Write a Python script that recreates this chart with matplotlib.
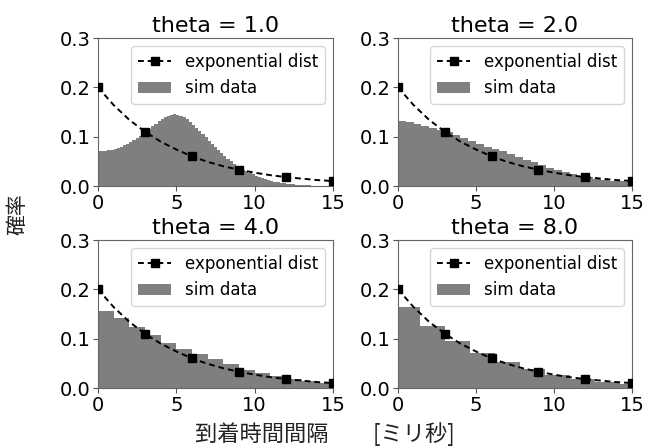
import numpy as np
import matplotlib
matplotlib.use("Agg")
import matplotlib.pyplot as plt

plt.rcParams['font.family'] = ['DejaVu Sans', 'Noto Sans CJK JP']

# ---- data ----
thetas = [1.0, 2.0, 4.0, 8.0]

exp_x = [0, 1, 2, 3, 4, 5, 6, 7, 8, 9, 10, 11, 12, 13, 14, 15]
exp_y = [0.200, 0.164, 0.134, 0.110, 0.090, 0.074, 0.060, 0.049, 0.040,
         0.033, 0.027, 0.022, 0.018, 0.015, 0.012, 0.010]

# theta = 1.0 : bin width 0.2, left edges 0.0 ... 14.8
hist1_edges_start = 0.0
hist1_width = 0.2
hist1 = [0.070, 0.070, 0.071, 0.072, 0.073, 0.075, 0.077, 0.080, 0.083, 0.086,
         0.089, 0.093, 0.097, 0.101, 0.106, 0.111, 0.116, 0.121, 0.126, 0.131,
         0.136, 0.139, 0.142, 0.144, 0.145, 0.144, 0.142, 0.139, 0.135, 0.130,
         0.124, 0.118, 0.112, 0.105, 0.099, 0.092, 0.086, 0.079, 0.073, 0.066,
         0.060, 0.055, 0.050, 0.045, 0.041, 0.037, 0.033, 0.030, 0.027, 0.024,
         0.021, 0.018, 0.016, 0.014, 0.012, 0.010, 0.009, 0.008, 0.007, 0.006,
         0.005, 0.004, 0.004, 0.003, 0.003, 0.002, 0.002, 0.002, 0.001, 0.001,
         0.001, 0.001, 0.001, 0.000, 0.000]

# theta = 2.0 : bin width 0.5
hist2_edges_start = 0.0
hist2_width = 0.5
hist2 = [0.131, 0.129, 0.126, 0.122, 0.118, 0.114, 0.110, 0.104, 0.098, 0.092,
         0.086, 0.080, 0.075, 0.070, 0.065, 0.059, 0.053, 0.048, 0.042, 0.036,
         0.032, 0.028, 0.024, 0.020, 0.018, 0.015, 0.013, 0.011, 0.010, 0.009]

# theta = 4.0 : bin width 1.0
hist4_edges_start = 0.0
hist4_width = 1.0
hist4 = [0.157, 0.141, 0.124, 0.107, 0.091, 0.080, 0.068, 0.058, 0.049, 0.036,
         0.031, 0.024, 0.019, 0.014, 0.010]

# theta = 8.0 : bin width 1.6
hist8_edges_start = -0.2
hist8_width = 1.6
hist8 = [0.164, 0.125, 0.095, 0.071, 0.053, 0.038, 0.027, 0.019, 0.013, 0.009]

hists = [(hist1_edges_start, hist1_width, hist1),
         (hist2_edges_start, hist2_width, hist2),
         (hist4_edges_start, hist4_width, hist4),
         (hist8_edges_start, hist8_width, hist8)]

xticks = [0, 5, 10, 15]
yticks = [0.0, 0.1, 0.2, 0.3]

# ---- figure ----
fig = plt.figure(figsize=(6.45, 4.48), dpi=100)
W, H = 645, 448
boxes = [(98, 38, 333, 186), (398, 38, 632, 186),
         (98, 240, 333, 388), (398, 240, 632, 388)]

for (l, t, r, b), th, (start, w, vals) in zip(boxes, thetas, hists):
    ax = fig.add_axes([l / W, 1 - b / H, (r - l) / W, (b - t) / H])
    lefts = start + w * np.arange(len(vals))
    ax.plot(exp_x, exp_y, color='black', linestyle=(0, (3, 2)), marker='s',
            markersize=5.5, markevery=3, linewidth=1.4,
            label='exponential dist', zorder=3)
    ax.bar(lefts, vals, width=w, align='edge', color='#7f7f7f',
           linewidth=0, label='sim data', zorder=2)
    ax.set_xlim(0, 15)
    ax.set_ylim(0, 0.3)
    ax.set_xticks(xticks)
    ax.set_yticks(yticks)
    ax.set_yticklabels([f"{v:.1f}" for v in yticks])
    ax.tick_params(labelsize=14, length=3.5, color='#555555', pad=2)
    for s in ax.spines.values():
        s.set_color('#666666')
    ax.set_title(f"theta = {th}", fontsize=16, pad=4)
    ax.legend(loc='upper right', fontsize=12, handlelength=2.0,
              borderaxespad=0.5)

fig.text(325 / W, 1 - 434 / H, "到着時間間隔　　[ミリ秒]", ha='center', va='center',
         fontsize=16, family=['Noto Sans CJK JP', 'DejaVu Sans'], color='#222222')
fig.text(17 / W, 1 - 214 / H, "確率", ha='center', va='center', rotation=90,
         fontsize=15, family=['Noto Sans CJK JP', 'DejaVu Sans'], color='#222222')

fig.savefig("out.png", dpi=100)
